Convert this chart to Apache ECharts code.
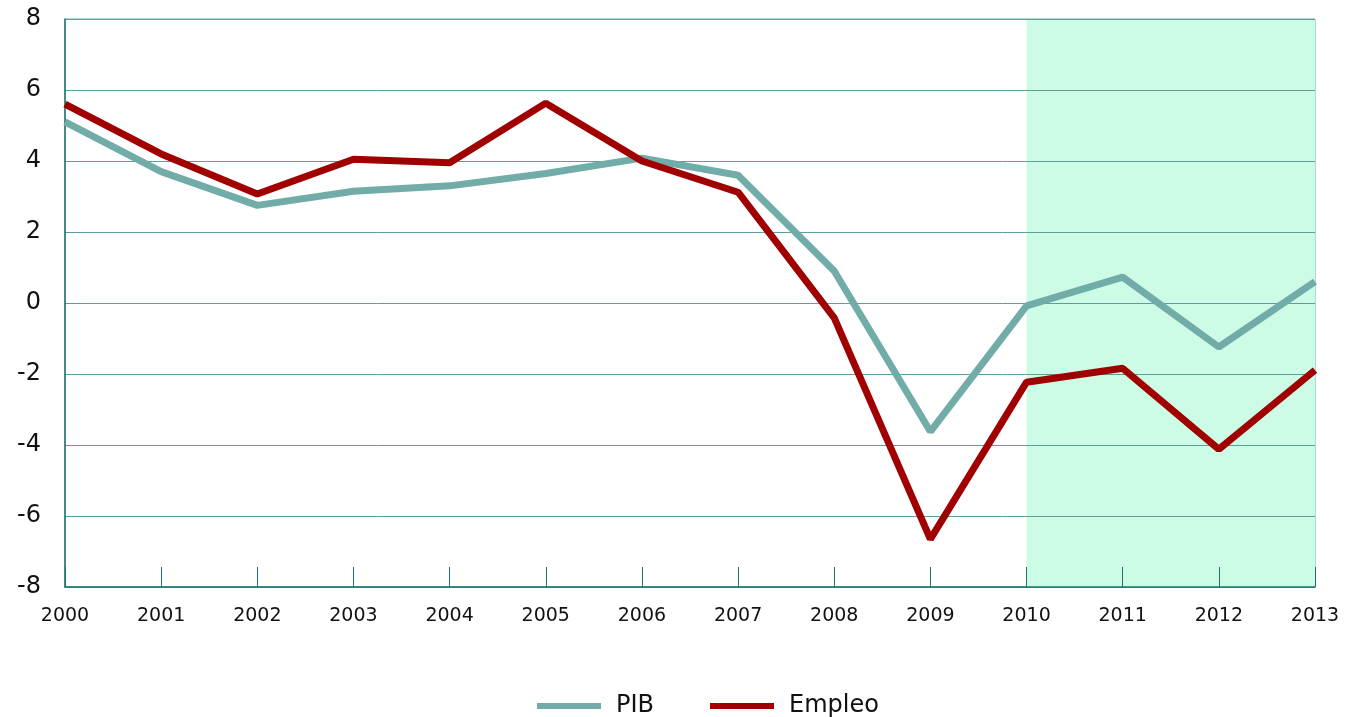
<!DOCTYPE html>
<html><head><meta charset="utf-8">
<script src="https://cdn.jsdelivr.net/npm/echarts@6/dist/echarts.min.js"></script>
<style>html,body{margin:0;padding:0;background:#fff}#c{width:1345px;height:717px}</style>
</head><body><div id="c"></div>
<script>
const years = ['2000','2001','2002','2003','2004','2005','2006','2007','2008','2009','2010','2011','2012','2013'];
const pib = [5.1, 3.7, 2.75, 3.15, 3.3, 3.65, 4.08, 3.6, 0.9, -3.62, -0.08, 0.73, -1.24, 0.6];
const empleo = [5.6, 4.2, 3.07, 4.05, 3.95, 5.63, 4.0, 3.12, -0.42, -6.65, -2.23, -1.84, -4.12, -1.89];
const yTicks = {min: -8, max: 8, interval: 2};
const shadeRange = ['2010', '2013'];

const chart = echarts.init(document.getElementById('c'));
const font = 'DejaVu Sans';
chart.setOption({
  animation: false,
  grid: {left: 65, right: 30, top: 19, bottom: 130, show: true, borderColor: '#6FAAA6', borderWidth: 1, backgroundColor: 'transparent'},
  legend: {
    top: 689, left: 532, itemWidth: 64, itemHeight: 6, itemGap: 56, icon: 'rect',
    textStyle: {fontFamily: font, fontSize: 24, color: '#111', padding: [0,0,0,10]},
    data: [{name: 'PIB', itemStyle: {color: '#72ACA8'}}, {name: 'Empleo', itemStyle: {color: '#A00000'}}]
  },
  xAxis: {
    type: 'category', data: years, boundaryGap: false, z: 2,
    axisLine: {show: true, onZero: false, lineStyle: {color: '#1F736D', width: 1.5}},
    axisTick: {show: true, inside: true, length: 20, lineStyle: {color: '#1F736D'}},
    axisLabel: {fontFamily: font, fontSize: 19, color: '#111', margin: 20},
    splitLine: {show: false}
  },
  yAxis: {
    type: 'value', min: yTicks.min, max: yTicks.max, interval: yTicks.interval, z: 2,
    axisLine: {show: true, lineStyle: {color: '#1F736D', width: 1.5}},
    axisTick: {show: false},
    axisLabel: {fontFamily: font, fontSize: 24, color: '#111', margin: 24},
    splitLine: {show: true, lineStyle: {color: '#5E9F9B', width: 1}}
  },
  series: [
    {name: 'PIB', type: 'line', data: pib, showSymbol: false, symbol: 'none',
     lineStyle: {color: '#72ACA8', width: 7}, itemStyle: {color: '#72ACA8'}, z: 3,
     markArea: {silent: true, z: 1, itemStyle: {color: '#CCFCE6'}, data: [[{xAxis: shadeRange[0]}, {xAxis: shadeRange[1]}]]}},
    {name: 'Empleo', type: 'line', data: empleo, showSymbol: false, symbol: 'none',
     lineStyle: {color: '#A00000', width: 7}, itemStyle: {color: '#A00000'}, z: 4}
  ]
});
</script></body></html>
